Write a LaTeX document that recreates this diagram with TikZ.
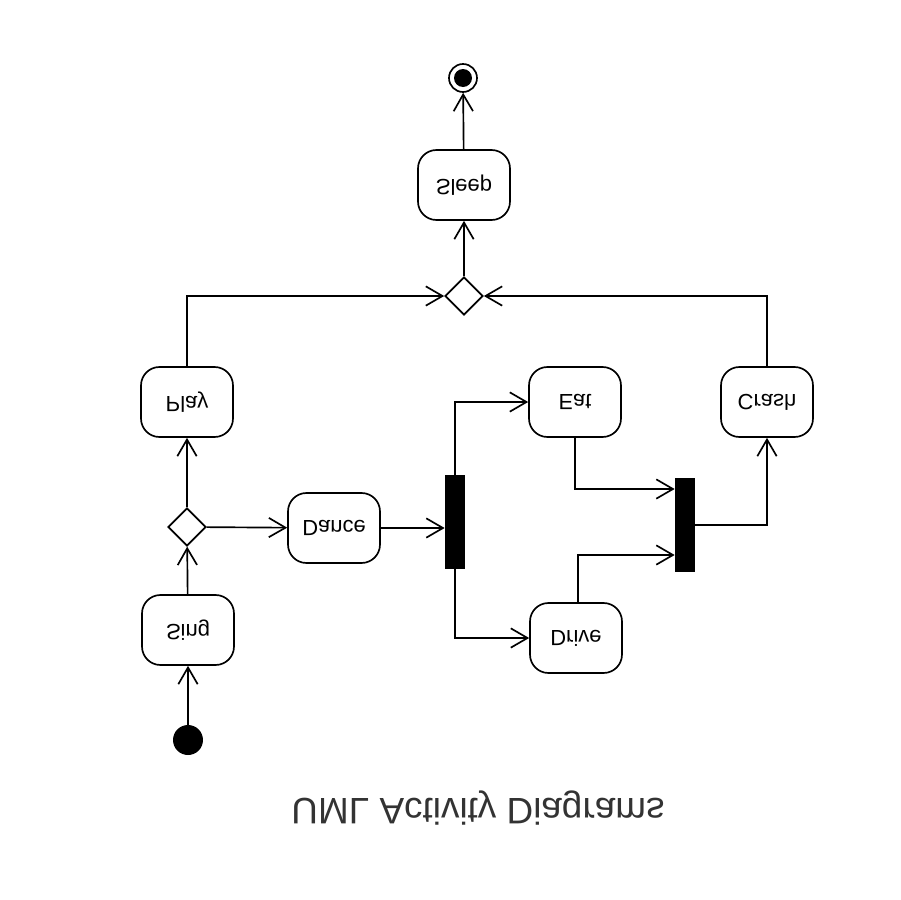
\documentclass[tikz,border=0pt]{standalone}
\usepackage{fontspec}
\setmainfont{Liberation Sans}
\usetikzlibrary{shapes.geometric, arrows.meta, positioning, calc}

% text is printed upside down in the picture
\newcommand{\flip}[1]{\scalebox{1}[-1]{#1}}

\begin{document}
\begin{tikzpicture}[x=0.02cm, y=-0.02cm,
    activity/.style={draw, rectangle, rounded corners=10.5pt, line width=0.95pt,
        minimum width=1.84cm, minimum height=1.4cm, font=\fontsize{12.5}{14}\selectfont},
    choice/.style={draw, diamond, line width=0.95pt, inner sep=0pt, minimum size=0.76cm},
    bar/.style={fill=black, rectangle, inner sep=0pt, minimum width=0.4cm, minimum height=1.88cm},
    flow/.style={line width=0.95pt, -{Straight Barb[length=9.5pt, width=11pt, line width=0.95pt]}}]
\useasboundingbox (0,0) rectangle (900,900);

% start and end
\node[circle, fill=black, minimum size=0.6cm, inner sep=0pt] (init) at (188,740) {};
\node[circle, draw, line width=0.95pt, minimum size=0.56cm, inner sep=0pt] (final) at (463,78) {};
\fill (final) circle (0.18cm);

% activities
\node[activity] (sing)  at (188,630) {\flip{Sing}};
\node[activity] (play)  at (187,402) {\flip{Play}};
\node[activity] (dance) at (334,528) {\flip{Dance}};
\node[activity] (eat)   at (575,402) {\flip{Eat}};
\node[activity] (drive) at (576,638) {\flip{Drive}};
\node[activity] (crash) at (767,402) {\flip{Crash}};
\node[activity] (sleep) at (464,185) {\flip{Sleep}};

% decision, merge, fork and join
\node[choice] (decide) at (187,527) {};
\node[choice] (merge)  at (464,296) {};
\node[bar] (fork) at (455,522) {};
\node[bar] (join) at (685,525) {};

% transitions
\draw[flow] (init) -- (sing);
\draw[flow] (sing) -- (decide);
\draw[flow] (decide) -- (play);
\draw[flow] (decide) -- (dance);
\draw[flow] (dance.east) -- (dance.east -| fork.west);
\draw[flow] (fork.north) |- (eat);
\draw[flow] (fork.south) |- (drive);
\draw[flow] (eat.south) |- ([yshift=0.72cm]join.west);
\draw[flow] ([xshift=0.04cm]drive.north) |- ([yshift=-0.6cm]join.west);
\draw[flow] (join.east) -| (crash.south);
\draw[flow] (play.north) |- (merge.west);
\draw[flow] (crash.north) |- (merge.east);
\draw[flow] (merge) -- (sleep);
\draw[flow] (sleep) -- (final);

% caption
\node[text=black!80, font=\fontsize{21}{25}\selectfont] (title) at (478,808) {\flip{UML Activity Diagrams}};
\end{tikzpicture}
\end{document}
